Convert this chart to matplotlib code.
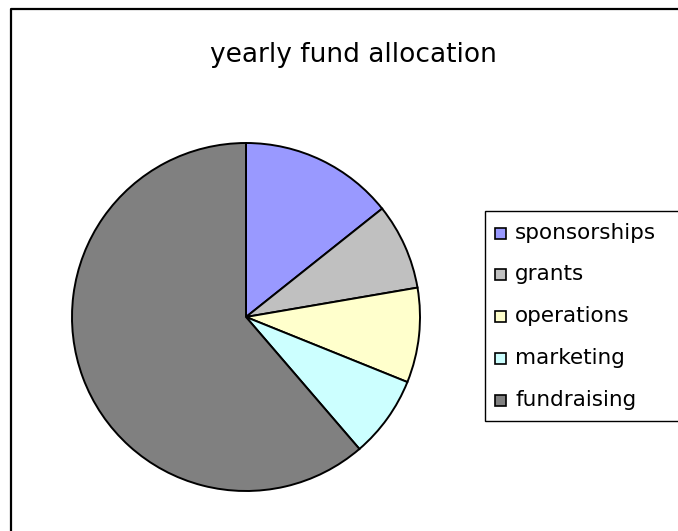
import matplotlib.pyplot as plt
from matplotlib.patches import Rectangle
from matplotlib.lines import Line2D

# =========================
# data
# =========================
labels = ["sponsorships", "grants", "operations", "marketing", "fundraising"]
shares = [14.3, 8.0, 8.8, 7.6, 61.3]
colors = ["#9999FF", "#C0C0C0", "#FFFFCC", "#CCFFFF", "#808080"]
title = "yearly fund allocation"

W, H = 678, 531
plt.rcParams['font.family'] = ['DejaVu Sans']

fig = plt.figure(figsize=(W / 100, H / 100), dpi=100)

# outer chart border (cut off at right/bottom)
fig.add_artist(Line2D([11 / W, 11 / W, 1.0], [0.0, 1 - 9 / H, 1 - 9 / H],
                      transform=fig.transFigure, color='black', linewidth=1.6))

# title
fig.text(353 / W, 1 - 55 / H, title, ha='center', va='center', fontsize=19)

# pie
cx, cy, r = 246, 317, 174
ax = fig.add_axes([(cx - r) / W, (H - cy - r) / H, 2 * r / W, 2 * r / H])
ax.pie(shares, colors=colors, startangle=90, counterclock=False, radius=1,
       wedgeprops=dict(edgecolor='black', linewidth=1.4))
ax.set_xlim(-1, 1)
ax.set_ylim(-1, 1)
ax.set_aspect('auto')
ax.axis('off')

# legend (box runs past right edge)
fig.add_artist(Rectangle((485 / W, 1 - 421 / H), 300 / W, 210 / H,
                         transform=fig.transFigure, facecolor='white',
                         edgecolor='black', linewidth=1.0))
row_y = [233, 274, 316, 358, 400]
for lab, col, y in zip(labels, colors, row_y):
    fig.add_artist(Rectangle((495 / W, 1 - (y + 6) / H), 11 / W, 11 / H,
                             transform=fig.transFigure, facecolor=col,
                             edgecolor='black', linewidth=1.2))
    fig.text(515 / W, 1 - y / H, lab, ha='left', va='center', fontsize=15.5)

plt.savefig("out.png", dpi=100)
plt.close()
